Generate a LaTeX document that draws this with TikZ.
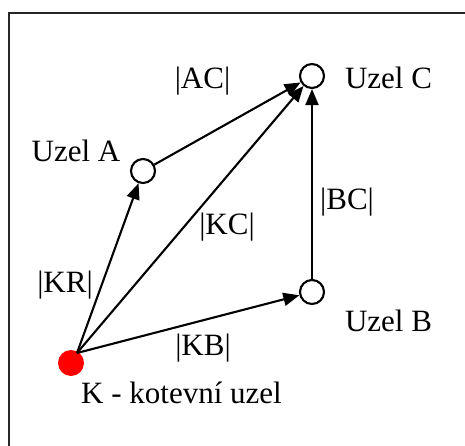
\documentclass[tikz,border=0pt]{standalone}
\usepackage{fontspec}
\setmainfont{Liberation Serif}
\usetikzlibrary{arrows.meta}
\begin{document}
\begin{tikzpicture}[x=1pt,y=-1pt,
  uzel/.style={circle,draw,line width=2.1pt,minimum size=24pt,inner sep=0pt,fill=white},
  kotva/.style={circle,fill=red,minimum size=26pt,inner sep=0pt},
  lbl/.style={anchor=base,inner sep=0pt,font=\fontsize{31}{36}\selectfont},
  hrana/.style={line width=2.1pt,-{Triangle[length=16pt,width=13pt]}},
  ramec/.style={line width=1.8pt,draw=black!85}]
\useasboundingbox (0,0) rectangle (465,446);
\draw[ramec] (9,460) -- (9,13) -- (480,13);
\node[kotva] (K) at (71,363) {};
\coordinate (K0) at (77,353);
\node[uzel] (A) at (143,171) {};
\node[uzel] (C) at (312,76) {};
\node[uzel] (B) at (312,292) {};
\draw[hrana] (K0) -- (A);
\draw[hrana] (K0) -- (C);
\draw[hrana] (K0) -- (B);
\draw[hrana] (A) -- (C);
\draw[hrana] (B) -- (C);
\node[lbl] (lAC) at (202.5,89) {|AC|};
\node[lbl] (lUC) at (388.5,89) {Uzel C};
\node[lbl] (lUA) at (76,162) {Uzel A};
\node[lbl] (lBC) at (347,210) {|BC|};
\node[lbl] (lKC) at (227,234) {|KC|};
\node[lbl] (lKR) at (65,292) {|KR|};
\node[lbl] (lUB) at (388.5,331) {Uzel B};
\node[lbl] (lKB) at (203,355) {|KB|};
\node[lbl] (lK) at (181.5,403) {K - kotevní uzel};
\end{tikzpicture}
\end{document}
